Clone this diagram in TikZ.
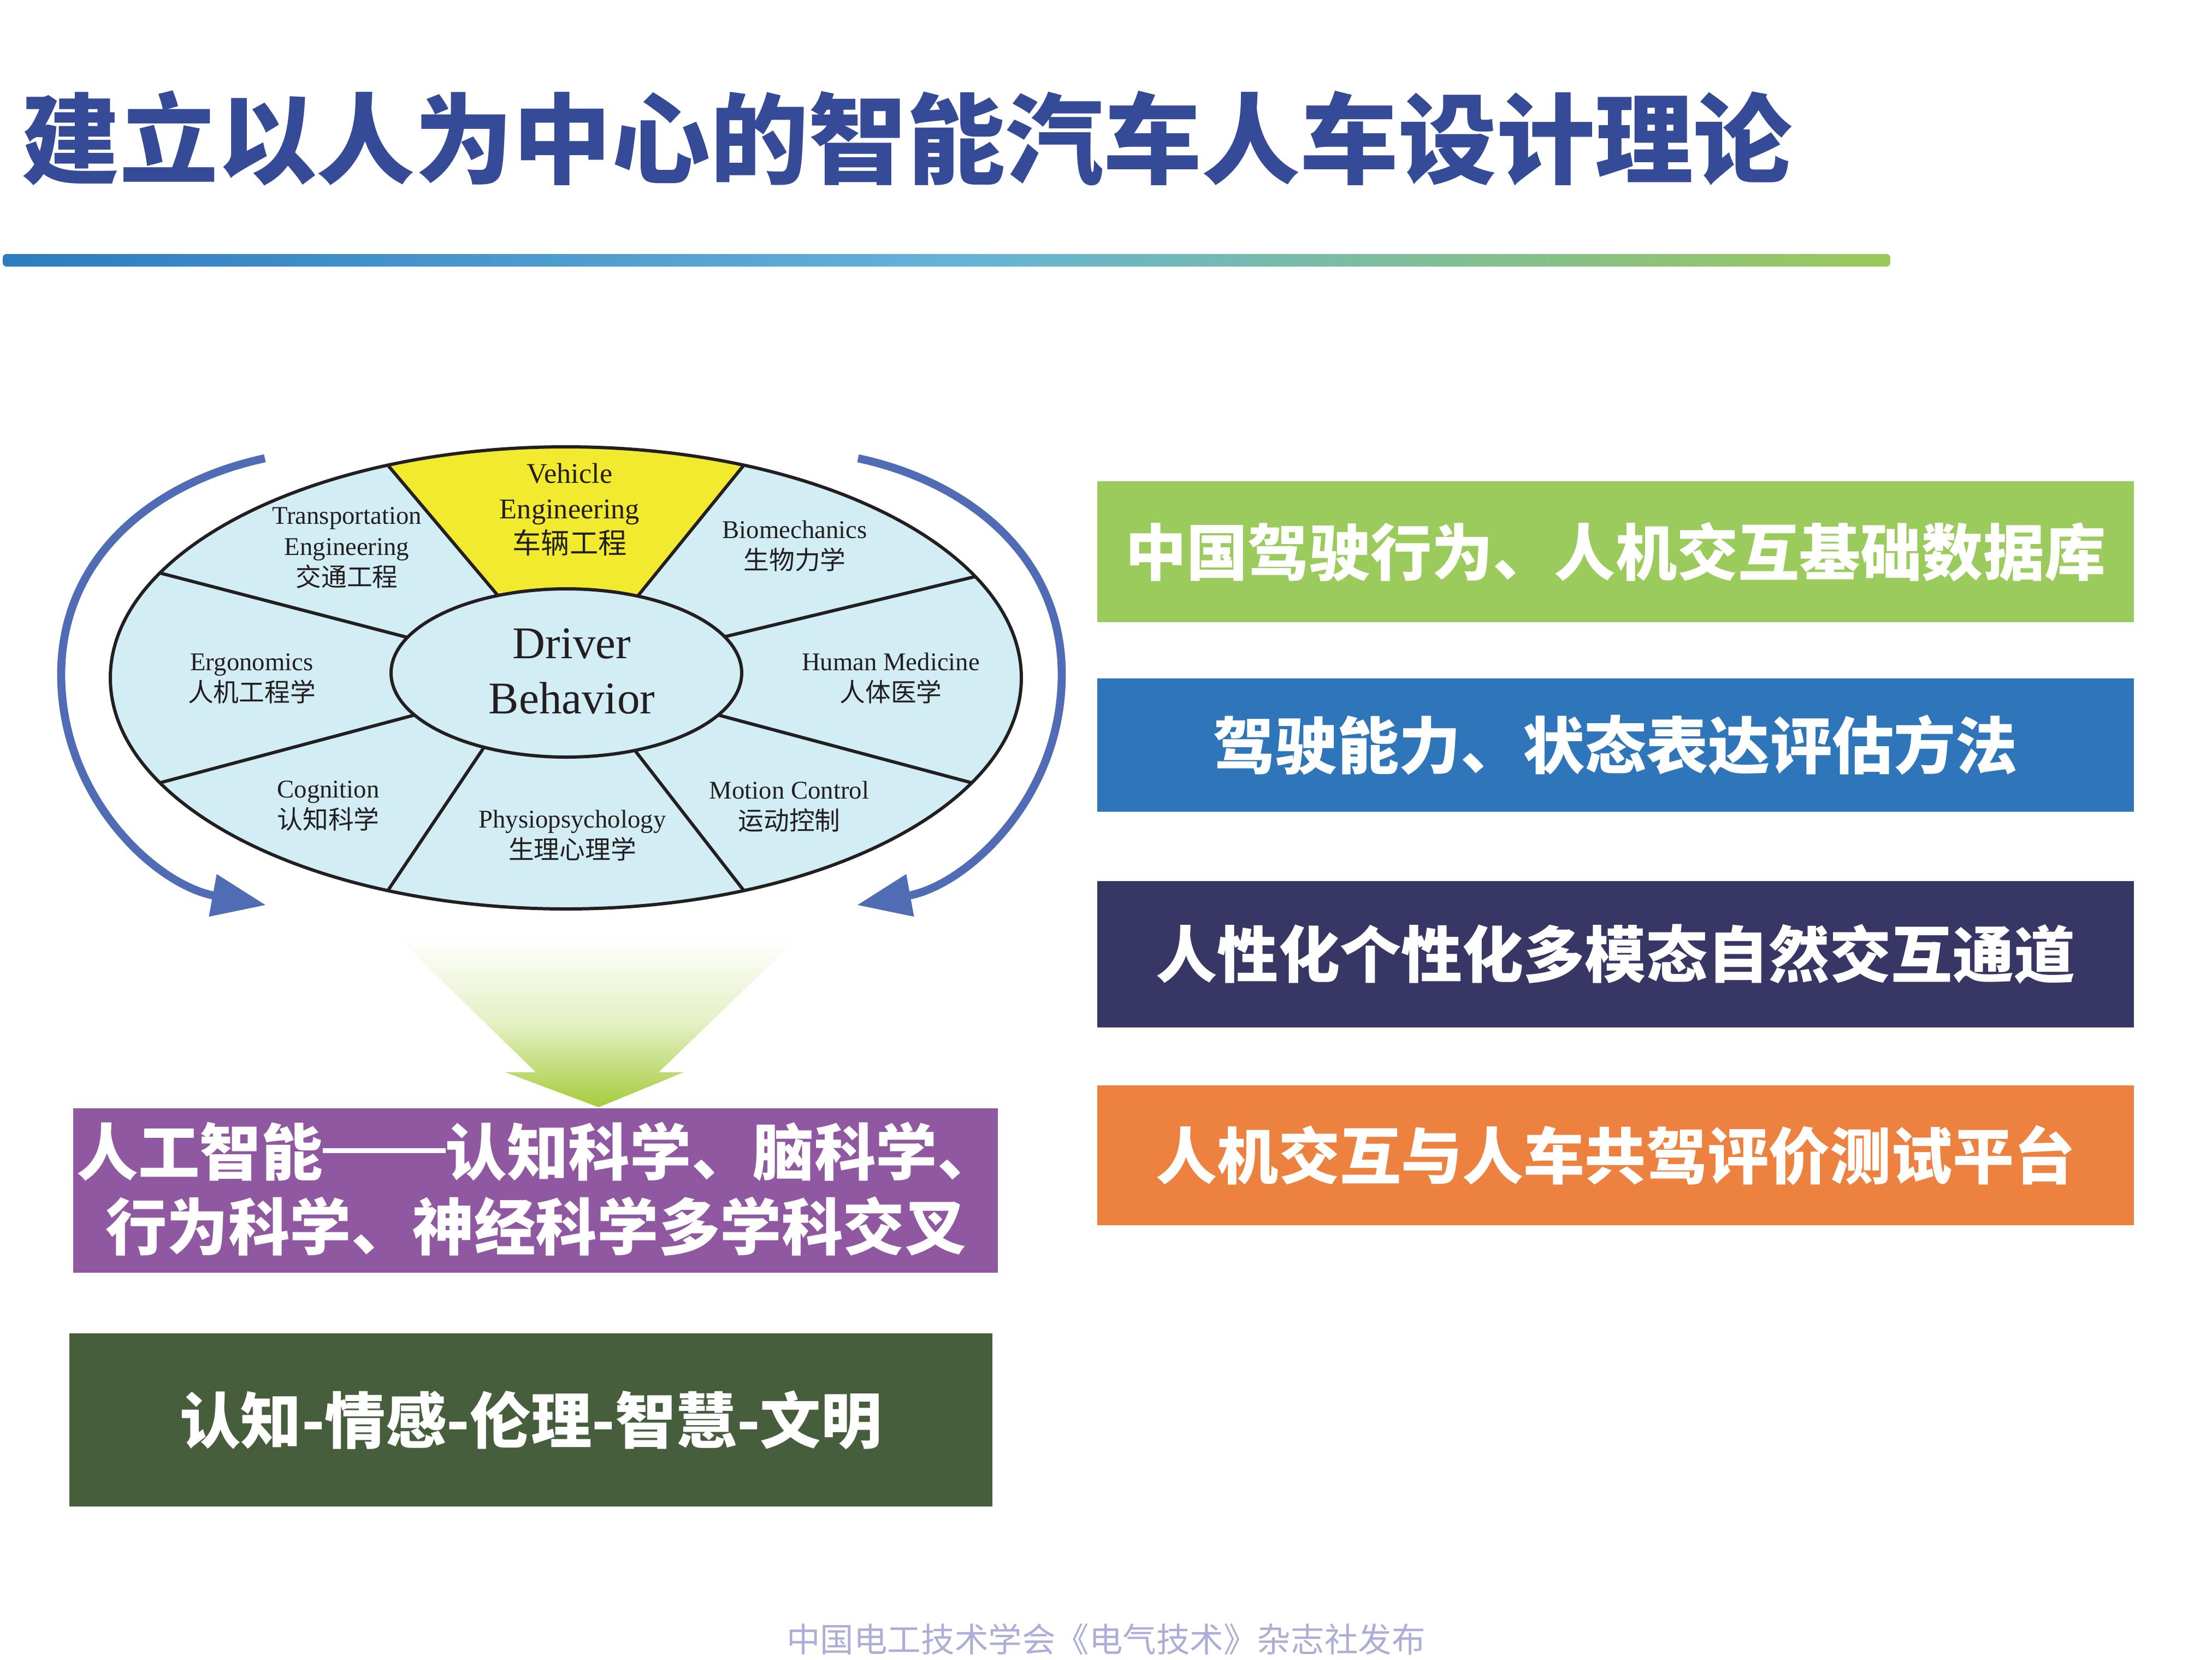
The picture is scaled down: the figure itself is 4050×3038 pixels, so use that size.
\documentclass[tikz,border=0pt]{standalone}
\usepackage{fontspec}
\setmainfont{Liberation Serif}
\newfontfamily\cjk{Noto Sans CJK SC}
\usepackage{tikz}
\usetikzlibrary{calc,arrows.meta,positioning}
\usepackage{xcolor}
\definecolor{titleblue}{RGB}{54,75,151}
\definecolor{barleft}{RGB}{46,123,191}
\definecolor{barmid}{RGB}{99,179,216}
\definecolor{barright}{RGB}{155,200,90}
\definecolor{sectorblue}{RGB}{211,237,244}
\definecolor{sectoryellow}{RGB}{242,234,47}
\definecolor{linegray}{RGB}{35,31,32}
\definecolor{arrowblue}{RGB}{80,108,180}
\definecolor{arrowgreen}{RGB}{166,204,60}
\definecolor{boxgreen}{RGB}{155,203,93}
\definecolor{boxblue}{RGB}{46,118,185}
\definecolor{boxnavy}{RGB}{55,54,100}
\definecolor{boxorange}{RGB}{237,130,64}
\definecolor{boxpurple}{RGB}{144,88,160}
\definecolor{boxolive}{RGB}{71,94,60}
\definecolor{footgray}{RGB}{173,174,216}
\newcommand{\longdash}{\makebox[2em]{\rule[0.36em]{2em}{0.08em}}}

\begin{document}
\begin{tikzpicture}[x=0.01cm, y=0.01cm,
    sectorline/.style={draw=linegray, line width=1.7pt},
    field/.style={align=center, inner sep=0pt, text=linegray,
              font=\fontsize{13.3}{16.2}\selectfont},
    catbox/.style={minimum width=18.96cm, inner sep=0pt, text=white,
              font=\cjk\bfseries\fontsize{31.9}{36}\selectfont},
    bigbox/.style={inner sep=0pt, text=white,
              font=\cjk\bfseries\fontsize{32}{36}\selectfont},
    cyclearrow/.style={draw=arrowblue, line width=4.2pt,
              -{Triangle[length=0.99cm, width=0.75cm]}}]
  \useasboundingbox (0,0) rectangle (4050,-3038);

  % title and bar
  \node[anchor=west, inner sep=0pt, text=titleblue,
        font=\cjk\bfseries\fontsize{51.2}{60}\selectfont] (title) at (39,-253)
        {建立以人为中心的智能汽车人车设计理论};
  \shade[left color=barleft, right color=barright, middle color=barmid,
         rounded corners=2pt] (5,-465) rectangle (3461,-488);

  % wheel
  \coordinate (oc) at (1036,-1241);
  \coordinate (ic) at (1037,-1232);
  \fill[sectorblue] (oc) ellipse [x radius=834, y radius=423];
  \fill[sectoryellow] ($(oc)+(67:834 and 423)$)
      arc [start angle=67, end angle=113, x radius=834, y radius=423]
      -- ($(ic)+(113:321 and 154)$)
      arc [start angle=113, end angle=66, x radius=321, y radius=154] -- cycle;
  \foreach \ti/\to in {25.5/26,66/67,113/113,155/153,210/207,242/247,293/293,330/333}
    \draw[sectorline] ($(ic)+(\ti:321 and 154)$) -- ($(oc)+(\to:834 and 423)$);
  \filldraw[fill=sectorblue, sectorline] (ic) ellipse [x radius=321, y radius=154];
  \draw[sectorline] (oc) ellipse [x radius=834, y radius=423];

  \node[field, font=\fontsize{14.9}{18.3}\selectfont] (veh) at (1043,-933)
       {Vehicle\\Engineering\\{\cjk 车辆工程}};
  \node[field] (trans) at (635,-1003) {Transportation\\Engineering\\{\cjk 交通工程}};
  \node[field] (bio) at (1455,-1000) {Biomechanics\\{\cjk 生物力学}};
  \node[field] (ergo) at (461,-1242) {Ergonomics\\{\cjk 人机工程学}};
  \node[field] (med) at (1631,-1242) {Human Medicine\\{\cjk 人体医学}};
  \node[field] (cog) at (601,-1475) {Cognition\\{\cjk 认知科学}};
  \node[field] (phys) at (1048,-1530) {Physiopsychology\\{\cjk 生理心理学}};
  \node[field] (mot) at (1445,-1477) {Motion Control\\{\cjk 运动控制}};
  \node[field, font=\fontsize{23.6}{28.5}\selectfont] (driver) at (1047,-1229)
       {Driver\\Behavior};

  % loop arrows
  \coordinate (lstart) at (485,-839);
  \coordinate (lend) at (487,-1657);
  \coordinate (rstart) at (1571,-839);
  \coordinate (rend) at (1569,-1657);
  \draw[cyclearrow] (lstart) .. controls (284,-882) and (112,-1017) .. (112,-1235)
       .. controls (112,-1460) and (285,-1620) .. (lend);
  \draw[cyclearrow] (rstart) .. controls (1772,-882) and (1944,-1017) .. (1944,-1235)
       .. controls (1944,-1460) and (1771,-1620) .. (rend);

  % down arrow
  \shade[top color=white, bottom color=arrowgreen, middle color=arrowgreen!30]
      (730,-1718) -- (1460,-1718) -- (1206,-1963) -- (1252,-1963)
      -- (1096,-2027) -- (925,-1963) -- (981,-1963) -- cycle;

  % right boxes
  \node[catbox, fill=boxgreen, minimum height=2.58cm] (db) at (2958,-1010)
       {中国驾驶行为、人机交互基础数据库};
  \node[catbox, fill=boxblue, minimum height=2.44cm,
        font=\cjk\bfseries\fontsize{32.2}{38}\selectfont] (eval) at (2958,-1364)
       {驾驶能力、状态表达评估方法};
  \node[catbox, fill=boxnavy, minimum height=2.67cm] (chan) at (2958,-1747)
       {人性化个性化多模态自然交互通道};
  \node[catbox, fill=boxorange, minimum height=2.56cm] (test) at (2958,-2115)
       {人机交互与人车共驾评价测试平台};

  % left boxes
  \node[fill=boxpurple, minimum width=16.92cm, minimum height=3.01cm,
        inner sep=0pt] (ai) at (980,-2179.5) {};
  \node[bigbox, anchor=west] (ai1)
       at (140,-2108) {人工智能\longdash 认知科学、脑科学、};
  \node[bigbox] (ai2) at (981,-2245) {行为科学、神经科学多学科交叉};
  \node[bigbox, fill=boxolive, minimum width=16.89cm, minimum height=3.17cm,
        font=\cjk\bfseries\fontsize{31.7}{36}\selectfont] (civ) at (972,-2599.5)
       {认知-情感-伦理-智慧-文明};

  % footer
  \node[text=footgray, font=\cjk\fontsize{17.5}{20}\selectfont] (foot) at (2025,-3001)
       {中国电工技术学会《电气技术》杂志社发布};
\end{tikzpicture}
\end{document}
